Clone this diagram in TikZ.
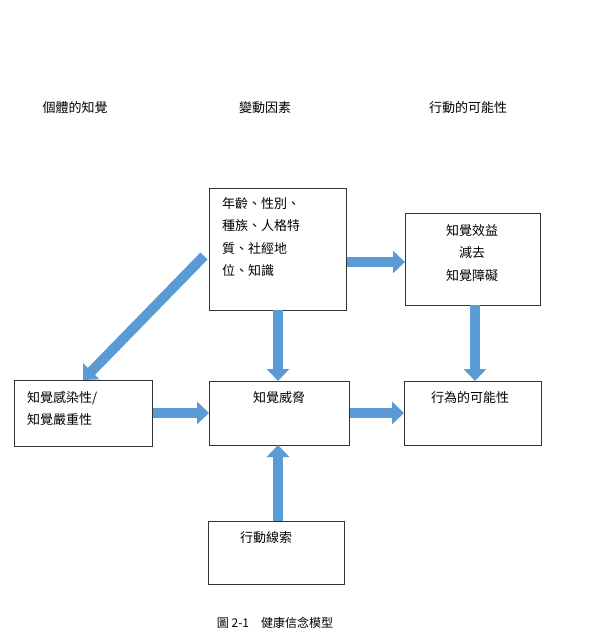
\documentclass[tikz,border=0pt]{standalone}
\usepackage{fontspec}
\setmainfont{Noto Sans CJK TC}
\usetikzlibrary{arrows.meta}
\definecolor{ab}{HTML}{5B9BD5}
\begin{document}
\begin{tikzpicture}[x=1pt,y=-1pt,
 box/.style={draw=black!80,line width=1pt,minimum width=#1,inner sep=0pt,anchor=north west},
 txt/.style={font=\fontsize{13}{22.5}\selectfont,align=left,inner sep=0pt},
 hd/.style={font=\fontsize{13}{15}\selectfont},
 arr/.style={draw=ab,line width=10pt,-{Triangle[width=22pt,length=12pt]}}]
\useasboundingbox (0,0) rectangle (604,631);
\node[box=137pt,minimum height=122pt] (m1) at (209,188) {};
\node[box=135pt,minimum height=92pt] (r1) at (405,213) {};
\node[box=138pt,minimum height=66pt] (l2) at (14,380) {};
\node[box=140pt,minimum height=64pt] (m2) at (209,381) {};
\node[box=137pt,minimum height=64pt] (r2) at (404,381) {};
\node[box=136pt,minimum height=63pt] (b3) at (208,521) {};
\node[txt,anchor=north west] (t1) at (222,197) {年齡、性別、\\種族、人格特\\質、社經地\\位、知識};
\node[txt,align=center,anchor=north] (t2) at (472,224) {知覺效益\\減去\\知覺障礙};
\node[txt,anchor=north west] (t3) at (27,391) {知覺感染性/\\知覺嚴重性};
\node[txt,anchor=north] (t4) at (279,391) {知覺威脅};
\node[txt,anchor=north] (t5) at (470,391) {行為的可能性};
\node[txt,anchor=north] (t6) at (266,531) {行動線索};
\node[hd] (h1) at (75,108) {個體的知覺};
\node[hd] (h2) at (265,108) {變動因素};
\node[hd] (h3) at (468,108) {行動的可能性};
\node[font=\fontsize{12}{14}\selectfont] (cap) at (275,623) {圖\ 2-1\quad 健康信念模型};
\draw[arr] (m1.east|-0,262) -- (r1.west|-0,262);
\draw[arr] (278,310) -- (278,381);
\draw[arr] (475,305) -- (475,381);
\draw[arr] (l2.east|-0,413) -- (m2.west|-0,413);
\draw[arr] (m2.east|-0,413) -- (r2.west|-0,413);
\draw[arr] (278,521) -- (278,445);
\draw[arr] (204,256) -- (83,380);
\end{tikzpicture}
\end{document}
